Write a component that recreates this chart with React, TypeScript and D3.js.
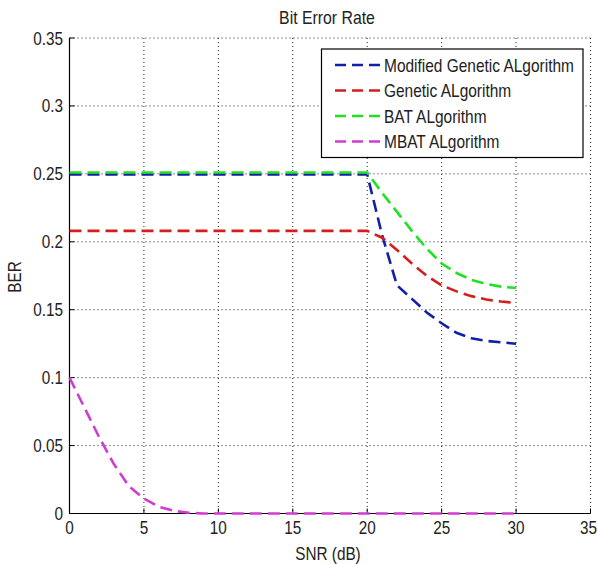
import React from "react";
import * as d3 from "d3";

const snr = [0,1,2,3,4,5,6,7,8,9,10,11,12,13,14,15,16,17,18,19,20,21,22,23,24,25,26,27,28,29,30];
const modifiedGA = [0.2495,0.2495,0.2495,0.2495,0.2495,0.2495,0.2495,0.2495,0.2495,0.2495,0.2495,0.2495,0.2495,0.2495,0.2495,0.2495,0.2495,0.2495,0.2495,0.2495,0.2495,0.205,0.168,0.158,0.148,0.140,0.133,0.129,0.127,0.126,0.125];
const geneticGA = [0.208,0.208,0.208,0.208,0.208,0.208,0.208,0.208,0.208,0.208,0.208,0.208,0.208,0.208,0.208,0.208,0.208,0.208,0.208,0.208,0.208,0.203,0.194,0.184,0.175,0.168,0.1635,0.160,0.1575,0.156,0.155];
const batAlg = [0.251,0.251,0.251,0.251,0.251,0.251,0.251,0.251,0.251,0.251,0.251,0.251,0.251,0.251,0.251,0.251,0.251,0.251,0.251,0.251,0.251,0.236,0.222,0.208,0.195,0.184,0.177,0.172,0.169,0.167,0.166];
const mbatAlg = [0.1,0.078,0.056,0.036,0.02,0.011,0.005,0.002,0.0005,0,0,0,0,0,0,0,0,0,0,0,0,0,0,0,0,0,0,0,0,0,0];

const seriesNames = ["Modified Genetic ALgorithm", "Genetic ALgorithm", "BAT ALgorithm", "MBAT ALgorithm"];
const seriesColors = ["#1020a8", "#d41e1e", "#22e022", "#d03cd0"];
const seriesValues = [modifiedGA, geneticGA, batAlg, mbatAlg];

const xTicks = [0,5,10,15,20,25,30,35];
const yTicks = [0,0.05,0.1,0.15,0.2,0.25,0.3,0.35];

const W = 598, H = 564;
const L = 69.5, R = 590.5, T = 38, B = 513.5;
const FONT = "'Liberation Sans', Arial, Helvetica, sans-serif";

function Txt(props: { x: number; y: number; anchor?: string; size?: number; sx?: number; rotate?: number; children: React.ReactNode }) {
  const { x, y, anchor = "start", size = 18, sx = 0.85, rotate = 0, children } = props;
  return (
    <text
      transform={`translate(${x},${y}) rotate(${rotate}) scale(${sx},1)`}
      textAnchor={anchor}
      fontFamily={FONT}
      fontSize={size}
      fill="#222"
    >
      {children}
    </text>
  );
}

export default function App() {
  const x = d3.scaleLinear().domain([0, 35]).range([L, R]);
  const y = d3.scaleLinear().domain([0, 0.35]).range([B, T]);
  const line = d3.line<number>().x((_, i) => x(snr[i])).y((v) => y(v));
  const tl = 5;
  return (
    <svg width={W} height={H} style={{ position: "absolute", left: 0, top: 0, background: "#fff" }}>
      <rect x={0} y={0} width={W} height={H} fill="#fff" />
      {xTicks.slice(1, -1).map((t) => (
        <line key={"gx" + t} x1={x(t)} x2={x(t)} y1={T} y2={B} stroke="#222" strokeWidth={1} strokeDasharray="1,3" />
      ))}
      {yTicks.slice(1, -1).map((t) => (
        <line key={"gy" + t} x1={L} x2={R} y1={y(t)} y2={y(t)} stroke="#222" strokeWidth={1} strokeDasharray="1,3" />
      ))}
      <line x1={L} x2={R} y1={T} y2={T} stroke="#222" strokeDasharray="1,3" />
      <line x1={R} x2={R} y1={T} y2={B} stroke="#222" strokeDasharray="1,3" />
      <line x1={L} x2={R} y1={B} y2={B} stroke="#000" strokeWidth={1.2} />
      <line x1={L} x2={L} y1={T} y2={B} stroke="#000" strokeWidth={1.2} />
      {xTicks.map((t) => (
        <g key={"tx" + t}>
          <line x1={x(t)} x2={x(t)} y1={B} y2={B - tl} stroke="#000" />
          <Txt x={t === 35 ? x(t) - 2 : x(t)} y={534} anchor="middle">{t}</Txt>
        </g>
      ))}
      {yTicks.map((t) => (
        <g key={"ty" + t}>
          <line x1={L} x2={L + tl} y1={y(t)} y2={y(t)} stroke="#000" />
          <Txt x={63} y={y(t) + 6.5} anchor="end">{t}</Txt>
        </g>
      ))}
      {seriesValues.map((vals, i) => (
        <path key={"s" + i} d={line(vals) || ""} fill="none" stroke={seriesColors[i]} strokeWidth={2.6} strokeDasharray="12,6" />
      ))}
      <Txt x={(L + R) / 2 - 3} y={24} anchor="middle" size={18} sx={0.88}>Bit Error Rate</Txt>
      <Txt x={(L + R) / 2 - 2} y={560} anchor="middle">SNR (dB)</Txt>
      <Txt x={21} y={277} anchor="middle" rotate={-90}>BER</Txt>
      <rect x={321.5} y={49} width={261.5} height={108.5} fill="#fff" stroke="#000" strokeWidth={1.2} />
      {seriesNames.map((n, i) => {
        const ly = 65 + i * 25.5;
        return (
          <g key={"lg" + i}>
            <line x1={335} x2={380} y1={ly} y2={ly} stroke={seriesColors[i]} strokeWidth={2.6} strokeDasharray="11,6" />
            <Txt x={384} y={ly + 6.5} sx={0.86}>{n}</Txt>
          </g>
        );
      })}
    </svg>
  );
}
